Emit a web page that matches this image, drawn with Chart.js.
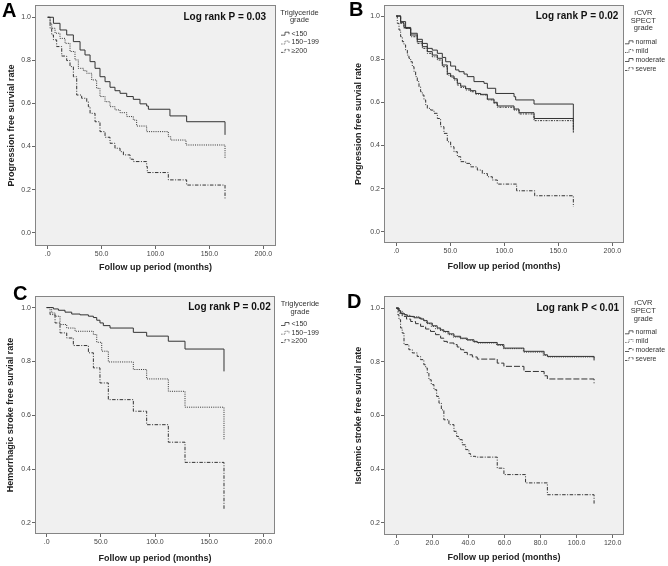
<!DOCTYPE html>
<html>
<head>
<meta charset="utf-8">
<script src="https://cdn.jsdelivr.net/npm/chart.js@4.4.1/dist/chart.umd.min.js"></script>
<style>
  html, body { margin: 0; padding: 0; background: #fff; }
  #wrap { position: relative; width: 668px; height: 566px; }
  .panel { position: absolute; width: 334px; height: 283px; }
</style>
</head>
<body>
<div id="wrap">
  <div class="panel" style="left:0;top:0"><canvas id="cA" width="334" height="283"></canvas></div>
  <div class="panel" style="left:334px;top:0"><canvas id="cB" width="334" height="283"></canvas></div>
  <div class="panel" style="left:0;top:283px"><canvas id="cC" width="334" height="283"></canvas></div>
  <div class="panel" style="left:334px;top:283px"><canvas id="cD" width="334" height="283"></canvas></div>
</div>
<script>
// [months, survival] step points (last pair = censoring drop)
const aLt150 = [[0,1],[5.3,0.972],[11.4,0.941],[17.6,0.918],[23.8,0.887],[30,0.848],[34.6,0.825],[39.3,0.794],[43.9,0.763],[48.5,0.724],[53.2,0.701],[57.8,0.675],[62.4,0.659],[67.1,0.647],[73.3,0.632],[79.4,0.619],[85.6,0.598],[91.8,0.588],[93.4,0.573],[113.4,0.542],[128.9,0.515],[164.5,0.515],[164.5,0.454]];
const a150to199 = [[0,1],[2.2,0.972],[3.7,0.949],[6.8,0.926],[11.4,0.902],[16.1,0.879],[20.7,0.841],[25.3,0.802],[28.4,0.763],[33.1,0.752],[36.2,0.74],[40.8,0.709],[45.4,0.67],[48.5,0.632],[53.2,0.608],[57.8,0.585],[62.4,0.57],[67.1,0.557],[73.3,0.539],[79.4,0.523],[82.5,0.495],[91.8,0.469],[111.9,0.446],[114.1,0.43],[128.3,0.407],[164.5,0.407],[164.5,0.345]];
const aGe200 = [[0,1],[2.2,0.949],[3.7,0.918],[5.3,0.895],[8.3,0.864],[13,0.82],[17.6,0.799],[20.7,0.771],[23.8,0.724],[26.9,0.639],[31.5,0.624],[36.2,0.608],[37.7,0.585],[39.3,0.554],[43.9,0.515],[48.5,0.469],[53.2,0.443],[57.8,0.415],[62.4,0.392],[67.1,0.376],[70.2,0.361],[76.4,0.341],[79.4,0.33],[91.8,0.307],[92.4,0.279],[111.9,0.245],[128.9,0.221],[164.5,0.221],[164.5,0.159]];

const bNormal = [[0,1],[4,0.974],[8.6,0.943],[13.3,0.92],[19.4,0.892],[24.1,0.873],[28.7,0.85],[33.3,0.842],[38,0.827],[42.6,0.808],[45.7,0.788],[50.3,0.768],[54.9,0.75],[58,0.742],[62.7,0.731],[65.7,0.719],[71.9,0.696],[81.2,0.688],[84.3,0.665],[92,0.641],[109,0.626],[110.5,0.611],[127.5,0.592],[163.9,0.592],[163.9,0.52]];
const bMild = [[0,1],[4,0.966],[7.1,0.943],[13.3,0.904],[19.4,0.873],[24.1,0.85],[28.7,0.827],[33.3,0.811],[38,0.796],[42.6,0.765],[47.2,0.726],[50.3,0.716],[53.4,0.703],[56.5,0.68],[59.6,0.669],[64.2,0.657],[68.8,0.649],[73.5,0.638],[78.1,0.634],[84.3,0.611],[90.4,0.595],[93.5,0.577],[109,0.564],[113.6,0.546],[127.5,0.515],[163.9,0.515],[163.9,0.455]];
const bModerate = [[0,1],[4,0.969],[7.1,0.947],[13.3,0.912],[19.4,0.881],[24.1,0.858],[28.7,0.835],[33.3,0.819],[38,0.804],[42.6,0.773],[47.2,0.734],[50.3,0.722],[53.4,0.709],[56.5,0.688],[59.6,0.675],[64.2,0.663],[68.8,0.654],[73.5,0.641],[78.1,0.637],[84.3,0.615],[90.4,0.6],[93.5,0.583],[109,0.569],[113.6,0.552],[127.5,0.525],[163.9,0.525],[163.9,0.47]];
const bSevere = [[0,1],[0.9,0.966],[2.5,0.935],[4,0.904],[5.6,0.881],[7.1,0.866],[8.6,0.842],[10.2,0.819],[11.7,0.804],[13.3,0.788],[14.8,0.765],[16.4,0.742],[17.9,0.719],[19.4,0.696],[21,0.672],[22.5,0.649],[24.1,0.634],[25.6,0.611],[27.2,0.587],[28.7,0.572],[31.8,0.564],[34.9,0.549],[38,0.525],[41,0.487],[44.1,0.456],[47.2,0.417],[50.3,0.394],[53.4,0.371],[56.5,0.348],[59.6,0.325],[64.2,0.317],[68.8,0.301],[75,0.286],[79.6,0.27],[84.3,0.255],[88.9,0.24],[93.5,0.221],[111.4,0.19],[128.1,0.167],[163.9,0.167],[163.9,0.116]];

const cLt150 = [[0,1],[6.2,0.995],[10.8,0.99],[16.9,0.983],[23.1,0.976],[30.8,0.973],[38.5,0.968],[43.1,0.963],[46.2,0.953],[49.2,0.943],[52.3,0.933],[58.5,0.924],[80,0.908],[92.3,0.894],[112.3,0.875],[127.7,0.846],[163.7,0.846],[163.7,0.763]];
const c150to199 = [[0,1],[4.6,0.98],[7.7,0.968],[12.3,0.937],[18.5,0.924],[26.2,0.912],[43.1,0.9],[46.2,0.871],[50.8,0.838],[56.9,0.798],[80,0.77],[92.3,0.735],[112.3,0.689],[127.7,0.63],[163.7,0.63],[163.7,0.51]];
const cGe200 = [[0,1],[3.1,0.974],[7.7,0.943],[12.3,0.906],[18.5,0.887],[24.6,0.859],[38.5,0.832],[43.1,0.776],[49.2,0.72],[56.9,0.658],[80,0.615],[92.3,0.565],[112.3,0.5],[127.7,0.425],[163.7,0.425],[163.7,0.25]];

const dNormal = [[0,1],[1.5,0.991],[2.4,0.981],[4.3,0.975],[6.1,0.969],[9.8,0.964],[13.5,0.959],[15.3,0.953],[17.2,0.944],[20,0.934],[22.7,0.926],[24.6,0.919],[26.4,0.913],[29.2,0.904],[32,0.895],[35.7,0.888],[39.4,0.882],[43.1,0.876],[44.9,0.872],[56,0.864],[59.7,0.851],[70.8,0.839],[82,0.826],[83.8,0.82],[109.7,0.82],[109.7,0.805]];
const dMild = [[0,1],[1.1,0.988],[3.3,0.979],[5.2,0.973],[8,0.968],[12.6,0.962],[15,0.954],[16.8,0.942],[19.4,0.932],[21.8,0.923],[24.2,0.917],[26.1,0.911],[28.7,0.901],[31.6,0.892],[35.3,0.886],[39,0.88],[42.7,0.873],[45.3,0.87],[55.7,0.861],[59.4,0.849],[70.5,0.836],[81.5,0.824],[84.1,0.818],[109.7,0.818],[109.7,0.81]];
const dModerate = [[0,1],[1.5,0.981],[3.3,0.969],[5.7,0.959],[8,0.95],[10.7,0.942],[13.5,0.932],[16.3,0.922],[19,0.913],[21.8,0.901],[24.6,0.888],[26.4,0.876],[28.3,0.87],[32,0.864],[33.8,0.855],[35.7,0.845],[37.5,0.835],[39.4,0.826],[42.2,0.818],[44.9,0.81],[56,0.795],[59.7,0.783],[70.8,0.764],[82,0.748],[83.8,0.736],[109.7,0.736],[109.7,0.72]];
const dSevere = [[0,1],[0.9,0.975],[1.5,0.957],[2.4,0.926],[3.3,0.907],[4.3,0.864],[7,0.845],[8.9,0.833],[11.6,0.82],[13.5,0.808],[15.3,0.789],[16.3,0.777],[17.2,0.758],[18.1,0.733],[19.4,0.715],[20.9,0.696],[22.4,0.671],[23.7,0.646],[25,0.621],[26.4,0.584],[29.2,0.566],[32,0.541],[33.5,0.522],[34.8,0.51],[36.6,0.491],[38.5,0.473],[40.3,0.458],[41.2,0.448],[44,0.445],[56,0.404],[59.7,0.38],[71.7,0.349],[83.8,0.305],[109.7,0.305],[109.7,0.272]];

const tgLabels = ["<150", "150~199", "≥200"];
const rcvrLabels = ["normal", "mild", "moderate", "severe"];
const monthTicks200 = [0, 50, 100, 150, 200];
const monthTicks120 = [0, 20, 40, 60, 80, 100, 120];
const pfsTicks = [0, 0.2, 0.4, 0.6, 0.8, 1.0];
const strokeTicks = [0.2, 0.4, 0.6, 0.8, 1.0];

const fam = '"Liberation Sans", Arial, sans-serif';
const SOLID = [], DOT = [1, 1.2], DASHDOT = [3.5, 1.5, 1, 1.5], SHORTDD = [2, 1.2, 1, 1.2], LONG = [6, 2];

function toXY(pairs) {
  return pairs.map(([x, y]) => ({ x, y }));
}

// background, frame, letter, p-value and the little SPSS legend
function decoPlugin(p) {
  return {
    id: "deco",
    beforeDraw(chart) {
      const { ctx, chartArea: a } = chart;
      ctx.save();
      ctx.fillStyle = "#f0f0f0";
      ctx.fillRect(a.left, a.top, a.right - a.left, a.bottom - a.top);
      ctx.restore();
    },
    afterDraw(chart) {
      const { ctx, chartArea: a } = chart;
      ctx.save();
      ctx.strokeStyle = "#858585";
      ctx.lineWidth = 1;
      ctx.strokeRect(a.left + 0.5, a.top + 0.5, a.right - a.left - 1, a.bottom - a.top - 1);

      ctx.fillStyle = "#000";
      ctx.font = "bold 20px " + fam;
      ctx.textBaseline = "alphabetic";
      ctx.fillText(p.letter, p.letterPos[0], p.letterPos[1]);

      ctx.fillStyle = "#111";
      ctx.font = "bold 10px " + fam;
      ctx.textAlign = "right";
      ctx.textBaseline = "middle";
      ctx.fillText(p.pText, p.pPos[0], p.pPos[1]);

      ctx.fillStyle = "#333";
      ctx.font = "7.5px " + fam;
      ctx.textAlign = "center";
      p.legTitle.forEach((t, i) => ctx.fillText(t, p.legCx, p.legTitleY[i]));

      ctx.font = "7px " + fam;
      ctx.textAlign = "left";
      p.labels.forEach((lab, i) => {
        const y = p.legY[i], x0 = p.legX;
        ctx.strokeStyle = "#333";
        ctx.lineWidth = 0.8;
        ctx.setLineDash(p.dashes[i].map((d) => d * 0.7));
        ctx.beginPath();
        ctx.moveTo(x0, y + 1.5);
        ctx.lineTo(x0 + 4, y + 1.5);
        ctx.lineTo(x0 + 4, y - 1.5);
        ctx.lineTo(x0 + 8, y - 1.5);
        ctx.lineTo(x0 + 8, y + 0.5);
        ctx.stroke();
        ctx.setLineDash([]);
        ctx.fillText(lab, x0 + 10.5, y);
      });
      ctx.restore();
    },
  };
}

function makePanel(id, p) {
  new Chart(document.getElementById(id), {
    type: "line",
    data: {
      datasets: p.series.map((s, i) => ({
        label: p.labels[i],
        data: toXY(s),
        borderColor: "#333",
        borderWidth: 1,
        borderDash: p.dashes[i],
        pointRadius: 0,
        stepped: true,
        fill: false,
      })),
    },
    options: {
      responsive: false,
      animation: false,
      layout: { padding: { left: 0, bottom: 0, top: p.area.top, right: 334 - p.area.right } },
      plugins: { legend: { display: false }, tooltip: { enabled: false } },
      scales: {
        x: {
          type: "linear",
          min: p.xMin,
          max: p.xMax,
          afterBuildTicks: (s) => { s.ticks = p.xTicks.map((v) => ({ value: v })); },
          afterFit: (s) => { s.height = 283 - p.area.bottom; s.paddingLeft = 0; s.paddingRight = 0; },
          ticks: {
            autoSkip: false, maxRotation: 0, padding: 1, color: "#444",
            font: { family: fam, size: 7 },
            callback: (v) => (v === 0 ? ".0" : v.toFixed(1)),
          },
          grid: { drawOnChartArea: false, tickLength: 3, color: "#666" },
          border: { display: false },
          title: {
            display: true, text: "Follow up period (months)", color: "#222",
            font: { family: fam, size: 9, weight: "bold" },
            padding: { top: 0, bottom: p.xTitlePad },
          },
        },
        y: {
          type: "linear",
          min: p.yMin,
          max: p.yMax,
          afterBuildTicks: (s) => { s.ticks = p.yTicks.map((v) => ({ value: v })); },
          afterFit: (s) => { s.width = p.area.left; s.paddingTop = 0; s.paddingBottom = 0; },
          ticks: {
            padding: 1, color: "#444",
            font: { family: fam, size: 7 },
            callback: (v) => v.toFixed(1),
          },
          grid: { drawOnChartArea: false, tickLength: 3, color: "#666" },
          border: { display: false },
          title: {
            display: true, text: p.yTitle, color: "#222",
            font: { family: fam, size: 9, weight: "bold" },
            padding: { top: p.yTitlePad, bottom: 0 },
          },
        },
      },
    },
    plugins: [decoPlugin(p)],
  });
}

makePanel("cA", {
  series: [aLt150, a150to199, aGe200], labels: tgLabels, dashes: [SOLID, DOT, DASHDOT],
  area: { left: 35, top: 5, right: 276, bottom: 246 },
  xMin: -11.8, xMax: 211.8, xTicks: monthTicks200,
  yMin: -0.062, yMax: 1.057, yTicks: pfsTicks,
  yTitle: "Progression free survial rate", yTitlePad: 6.6, xTitlePad: 10.3,
  letter: "A", letterPos: [2, 17], pText: "Log rank P = 0.03", pPos: [266, 17.3],
  legTitle: ["Triglyceride", "grade"], legCx: 299.5, legTitleY: [12.7, 19.5],
  legX: 281, legY: [33.7, 42.5, 50.9],
});

makePanel("cB", {
  series: [bNormal, bMild, bModerate, bSevere], labels: rcvrLabels, dashes: [SOLID, SHORTDD, SOLID, DASHDOT],
  area: { left: 50, top: 5, right: 290, bottom: 243 },
  xMin: -11.4, xMax: 210.8, xTicks: monthTicks200,
  yMin: -0.052, yMax: 1.051, yTicks: pfsTicks,
  yTitle: "Progression free survial rate", yTitlePad: 19.6, xTitlePad: 10.9,
  letter: "B", letterPos: [15, 16], pText: "Log rank P = 0.02", pPos: [284.3, 16],
  legTitle: ["rCVR", "SPECT", "grade"], legCx: 309.3, legTitleY: [13.3, 20.7, 28.3],
  legX: 291, legY: [42.3, 51, 60, 69],
});

makePanel("cC", {
  series: [cLt150, c150to199, cGe200], labels: tgLabels, dashes: [SOLID, DOT, DASHDOT],
  area: { left: 35, top: 13, right: 275, bottom: 251 },
  xMin: -10.8, xMax: 210.8, xTicks: monthTicks200,
  yMin: 0.159, yMax: 1.043, yTicks: strokeTicks,
  yTitle: "Hemorrhagic stroke free survial rate", yTitlePad: 5.6, xTitlePad: 1.9,
  letter: "C", letterPos: [13, 17], pText: "Log rank P = 0.02", pPos: [270.7, 24.7],
  legTitle: ["Triglyceride", "grade"], legCx: 300, legTitleY: [21, 28.7],
  legX: 281, legY: [41, 49.7, 58],
});

makePanel("cD", {
  series: [dNormal, dMild, dModerate, dSevere], labels: rcvrLabels, dashes: [SOLID, DOT, LONG, DASHDOT],
  area: { left: 50, top: 13, right: 290, bottom: 252 },
  xMin: -6.8, xMax: 126.3, xTicks: monthTicks120,
  yMin: 0.155, yMax: 1.045, yTicks: strokeTicks,
  yTitle: "Ischemic stroke free survial rate", yTitlePad: 19.6, xTitlePad: 2.6,
  letter: "D", letterPos: [13, 25], pText: "Log rank P < 0.01", pPos: [285, 25],
  legTitle: ["rCVR", "SPECT", "grade"], legCx: 309.3, legTitleY: [20.3, 27.7, 36],
  legX: 291, legY: [49.3, 58, 67, 76],
});
</script>
</body>
</html>
